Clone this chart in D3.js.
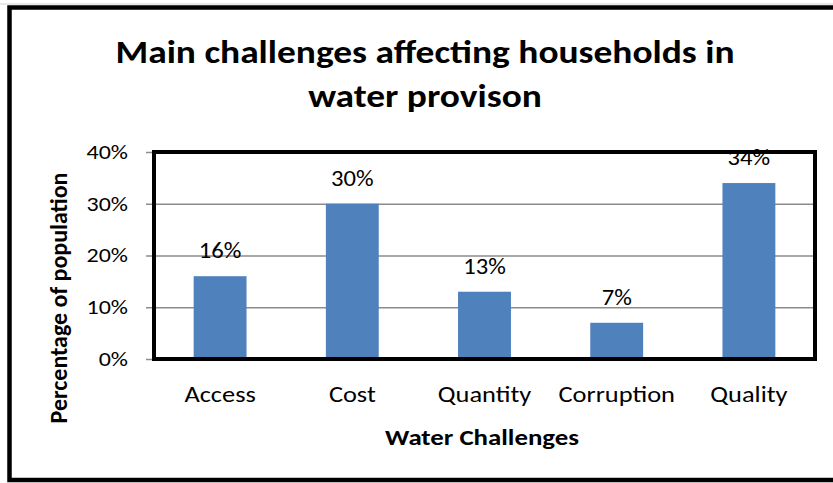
<!DOCTYPE html>
<html>
<head>
  <meta charset="utf-8">
  <style>
    body{ margin:0; background:#fff; }
    text{ font-family: Carlito, Calibri, Lato, sans-serif; fill:#000; }
  </style>
  <script src="https://d3js.org/d3.v7.min.js"></script>
</head>
<body>
<script>
// chart data
var categories = ["Access", "Cost", "Quantity", "Corruption", "Quality"];
var values = [0.16, 0.30, 0.13, 0.07, 0.34];
var yTicks = [0, 0.1, 0.2, 0.3, 0.4];
var titleLines = ["Main challenges affecting households in", "water provison"];
var xTitle = "Water Challenges";
var yTitle = "Percentage of population";

var W = 833, H = 483;
var plot = {left:154, right:815, top:152, bottom:359};
var FONT = "Carlito, Calibri, Lato, sans-serif";

var svg = d3.select("body").append("svg")
  .attr("width", W)
  .attr("height", H);

// the source text is wider than it is tall, so widen glyphs a bit
function stretch(sel, sx) {
  sel.each(function(){
    var t = d3.select(this);
    var x0 = +t.attr("x") || 0;
    t.attr("x", x0 / sx).attr("transform", "scale(" + sx + ",1)");
  });
}

// outer chart border
svg.append("line")
  .attr("x1", 0).attr("x2", W).attr("y1", 4).attr("y2", 4)
  .attr("stroke", "#d0d0d0").attr("stroke-width", 1);
svg.append("rect")
  .attr("x", 9.5).attr("y", 7.5)
  .attr("width", 840).attr("height", 472.5)
  .attr("fill", "none")
  .attr("stroke", "#000")
  .attr("stroke-width", 4.5);

var x = d3.scaleBand()
  .domain(categories)
  .range([plot.left, plot.right])
  .paddingInner(0.6)
  .paddingOuter(0.3);

var y = d3.scaleLinear()
  .domain([0, 0.4])
  .range([plot.bottom, plot.top]);

// gridlines
var grid = svg.append("g")
  .attr("transform", "translate(" + plot.left + ",0)")
  .call(d3.axisLeft(y).tickValues(yTicks).tickSize(-(plot.right - plot.left)).tickFormat(""));
grid.select(".domain").remove();
grid.selectAll("line").attr("stroke", "#8c8c8c").attr("stroke-width", 1.5);

// y axis ticks + labels
var yAxis = svg.append("g")
  .attr("transform", "translate(" + plot.left + ",0)")
  .call(d3.axisLeft(y).tickValues(yTicks).tickSize(8).tickPadding(18).tickFormat(d3.format(".0%")));
yAxis.select(".domain").remove();
yAxis.selectAll("line").attr("stroke", "#8c8c8c").attr("stroke-width", 1.5);
yAxis.selectAll("text").attr("font-size", 20).attr("fill", "#000")
  .style("font-family", FONT);
stretch(yAxis.selectAll("text"), 1.2);

// bars
svg.selectAll(".bar")
  .data(values)
  .enter().append("rect")
  .attr("class", "bar")
  .attr("x", function(d, i){ return x(categories[i]); })
  .attr("y", function(d){ return y(d); })
  .attr("width", x.bandwidth())
  .attr("height", function(d){ return y(0) - y(d); })
  .attr("fill", "#4F81BD");

// plot border
svg.append("rect")
  .attr("x", plot.left).attr("y", plot.top)
  .attr("width", plot.right - plot.left).attr("height", plot.bottom - plot.top)
  .attr("fill", "none")
  .attr("stroke", "#000")
  .attr("stroke-width", 4);

// data labels
var lbls = svg.selectAll(".lbl")
  .data(values)
  .enter().append("text")
  .attr("class", "lbl")
  .attr("x", function(d, i){ return x(categories[i]) + x.bandwidth() / 2; })
  .attr("y", function(d){ return y(d) - 18; })
  .attr("text-anchor", "middle")
  .attr("font-size", 22)
  .text(function(d){ return d3.format(".0%")(d); });
stretch(lbls, 1.12);

// category labels
var xAxis = svg.append("g")
  .attr("transform", "translate(0," + plot.bottom + ")")
  .call(d3.axisBottom(x).tickSize(0).tickPadding(27));
xAxis.select(".domain").remove();
xAxis.selectAll("text").attr("font-size", 22).attr("fill", "#000")
  .style("font-family", FONT);
stretch(xAxis.selectAll("text"), 1.2);

// titles
var ttl = svg.selectAll(".title")
  .data(titleLines)
  .enter().append("text")
  .attr("class", "title")
  .attr("x", 425)
  .attr("y", function(d, i){ return 63 + i * 44; })
  .attr("text-anchor", "middle")
  .attr("font-size", 32)
  .attr("font-weight", "bold")
  .text(function(d){ return d; });
stretch(ttl, 1.17);

var xt = svg.append("text")
  .attr("x", 482)
  .attr("y", 445)
  .attr("text-anchor", "middle")
  .attr("font-size", 22)
  .attr("font-weight", "bold")
  .text(xTitle);
stretch(xt, 1.22);

svg.append("text")
  .attr("transform", "translate(67,298) rotate(-90)")
  .attr("text-anchor", "middle")
  .attr("font-size", 24)
  .attr("font-weight", "bold")
  .text(yTitle);
</script>
</body>
</html>
